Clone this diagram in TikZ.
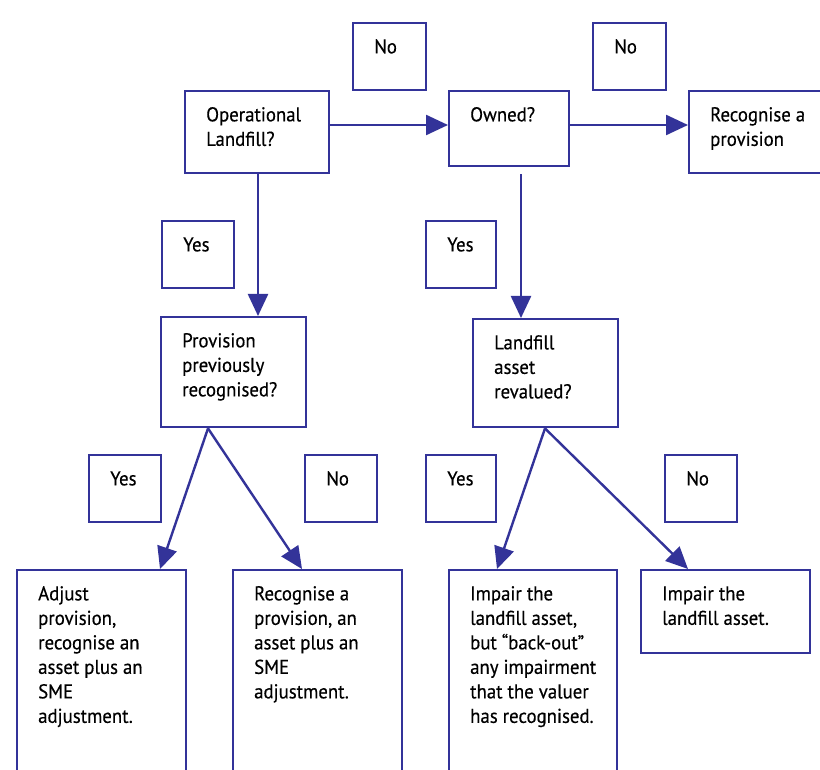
\documentclass[tikz,border=0pt]{standalone}
\usepackage{fontspec}
\setmainfont[FakeStretch=0.94, FakeBold=0.4]{PT Sans}
\usetikzlibrary{positioning, calc, arrows.meta}

\definecolor{lineblue}{RGB}{51,51,153}
\newcommand{\boxbody}[3]{\parbox[t][#2][t]{#1}{\raggedright\vspace*{13pt}\strut#3}}

\begin{document}
\begin{tikzpicture}[x=1pt, y=-1pt,
	flowbox/.style={draw=lineblue, line width=2.4pt, anchor=north west, inner xsep=21pt, inner ysep=0pt},
	arr/.style={draw=lineblue, line width=2.4pt, -{Triangle[length=22pt, width=20pt]}}]
	\fontsize{20}{24.5}\selectfont
	\useasboundingbox (0,0) rectangle (820,770);
	% decision boxes
	\node (oper) [flowbox] at (184,90) {\boxbody{102pt}{82pt}{Operational\\Landfill?}};
	\node (owned) [flowbox] at (448,90) {\boxbody{78pt}{75pt}{Owned?}};
	\node (recprov) [flowbox] at (688,90) {\boxbody{108pt}{82pt}{Recognise a\\provision}};
	\node (prev) [flowbox] at (160,316) {\boxbody{103pt}{110pt}{Provision\\previously\\recognised?}};
	\node (reval) [flowbox] at (472,318) {\boxbody{103pt}{108pt}{Landfill\\asset\\revalued?}};
	% outcome boxes
	\node (adjust) [flowbox] at (16,569) {\boxbody{127pt}{220pt}{Adjust\\provision,\\recognise an\\asset plus an\\SME\\adjustment.}};
	\node (recog) [flowbox] at (232,569) {\boxbody{127pt}{220pt}{Recognise a\\provision, an\\asset plus an\\SME\\adjustment.}};
	\node (impair) [flowbox] at (448,569) {\boxbody{126pt}{220pt}{Impair the\\landfill asset,\\but “back-out”\\any impairment\\that the valuer\\has recognised.}};
	\node (impairb) [flowbox] at (640,569) {\boxbody{127pt}{83pt}{Impair the\\landfill asset.}};
	% yes / no boxes
	\node (noa) [flowbox] at (352,22) {\boxbody{31pt}{67pt}{No}};
	\node (nob) [flowbox] at (592,22) {\boxbody{31pt}{67pt}{No}};
	\node (yesa) [flowbox] at (161,220) {\boxbody{30pt}{67pt}{Yes}};
	\node (yesb) [flowbox] at (425,220) {\boxbody{28pt}{67pt}{Yes}};
	\node (yesc) [flowbox] at (88,454) {\boxbody{30pt}{67pt}{Yes}};
	\node (noc) [flowbox] at (304,454) {\boxbody{30pt}{67pt}{No}};
	\node (yesd) [flowbox] at (425,454) {\boxbody{28pt}{67pt}{Yes}};
	\node (nod) [flowbox] at (664,454) {\boxbody{30pt}{67pt}{No}};
	% connectors
	\coordinate (ownedout) at ($(owned.south west)+(73,7)$);
	\draw [arr] ($(oper.north east)+(0,35)$) -- ($(owned.north west)+(0,35)$);
	\draw [arr] ($(owned.north east)+(0,35)$) -- ($(recprov.north west)+(0,35)$);
	\draw [arr] ($(oper.south west)+(74,0)$) -- ($(prev.north west)+(98,0)$);
	\draw [arr] (ownedout) -- ($(reval.north west)+(49,0)$);
	\draw [arr] ($(prev.south west)+(48,0)$) -- ($(adjust.north west)+(144,0)$);
	\draw [arr] ($(prev.south west)+(48,0)$) -- ($(recog.north west)+(70,0)$);
	\draw [arr] ($(reval.south west)+(73,0)$) -- ($(impair.north west)+(49,0)$);
	\draw [arr] ($(reval.south west)+(73,0)$) -- ($(impairb.north west)+(48,0)$);
\end{tikzpicture}
\end{document}
